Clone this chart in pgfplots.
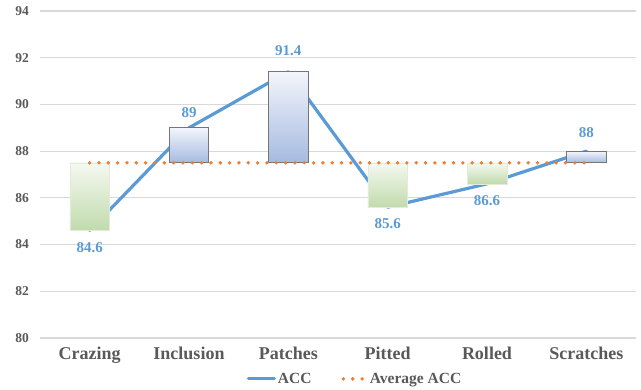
\documentclass[border=0pt]{standalone}
\usepackage{pgfplots}
\pgfplotsset{compat=1.18}
\usepackage{pgfplotstable}
\usepackage{fontspec}
\setmainfont{Liberation Serif}

\definecolor{accblue}{HTML}{5B9BD5}
\definecolor{avgorange}{HTML}{ED7D31}
\definecolor{gridgray}{HTML}{D9D9D9}
\definecolor{textgray}{HTML}{595959}
\definecolor{upedge}{HTML}{767676}
\definecolor{uptop}{HTML}{F3F5FB}
\definecolor{upbottom}{HTML}{A5BAE1}
\definecolor{downedge}{HTML}{E3ECDB}
\definecolor{downtop}{HTML}{F5F9F1}
\definecolor{downbottom}{HTML}{C1DBAC}

% accuracy per defect class; dy places the value label above/below the point
\pgfplotstableread{
x acc dy
0 84.6 -17
1 89.0 15
2 91.4 21
3 85.6 -16
4 86.6 -17
5 88.0 19
}\accdata

\pgfplotsset{
  upbar/.style={draw=upedge, line width=0.9bp, top color=uptop, bottom color=upbottom, forget plot},
  downbar/.style={draw=downedge, line width=0.6bp, top color=downtop, bottom color=downbottom, forget plot},
  acclegend/.style={legend image code/.code={\draw[##1] (0bp,0bp) -- (26bp,0bp);}},
  avglegend/.style={legend image code/.code={\draw[##1] (0bp,0bp) -- (22.5bp,0bp);}},
}

\begin{document}
\begin{tikzpicture}
\path[use as bounding box] (0,0) rectangle (641bp,390bp);
\begin{axis}[
  at={(40bp,52bp)}, anchor=south west,
  scale only axis, width=596bp, height=327bp,
  xmin=-0.5, xmax=5.5, ymin=80, ymax=94,
  xtick={0,...,5},
  xticklabels={Crazing,Inclusion,Patches,Pitted,Rolled,Scratches},
  ytick={80,82,...,94},
  ymajorgrids, grid style={draw=gridgray, line width=1.2bp},
  axis line style={draw=none},
  major tick length=0pt,
  /pgf/number format/assume math mode=true,
  yticklabel style={font=\fontsize{13.5bp}{15bp}\selectfont\bfseries, text=textgray, anchor=east, inner sep=0pt, xshift=-11bp},
  xticklabel style={font=\fontsize{18bp}{20bp}\selectfont\bfseries, text=textgray, anchor=base, inner sep=0pt, yshift=-21.5bp},
  clip=false,
  legend columns=2,
  legend style={at={(0.5285,-0.125)}, anchor=center, draw=none, fill=none,
    font=\fontsize{15.5bp}{17bp}\selectfont\bfseries, text=textgray,
    /tikz/every even column/.append style={column sep=28bp}},
  legend cell align=left,
]
% ACC line
\addplot[accblue, line width=3.2bp, line cap=round, line join=round, acclegend]
  table[x=x, y=acc]{\accdata};
\addlegendentry{ACC}

% up/down bars between the average and each class accuracy
\addplot[downbar] coordinates {(-0.2,87.5) (0.2,87.5) (0.2,84.6) (-0.2,84.6)} -- cycle;
\addplot[upbar]   coordinates {(0.8,87.5) (1.2,87.5) (1.2,89.0) (0.8,89.0)} -- cycle;
\addplot[upbar]   coordinates {(1.8,87.5) (2.2,87.5) (2.2,91.4) (1.8,91.4)} -- cycle;
\addplot[downbar] coordinates {(2.8,87.5) (3.2,87.5) (3.2,85.6) (2.8,85.6)} -- cycle;
\addplot[downbar] coordinates {(3.8,87.5) (4.2,87.5) (4.2,86.6) (3.8,86.6)} -- cycle;
\addplot[upbar]   coordinates {(4.8,87.5) (5.2,87.5) (5.2,88.0) (4.8,88.0)} -- cycle;

% average accuracy
\addplot[avgorange, line width=3.8bp, line cap=round, dash pattern=on 0bp off 9.33bp, avglegend]
  coordinates {(0,87.5) (5,87.5)};
\addlegendentry{Average ACC}

% value labels
\addplot[draw=none, mark=none, forget plot,
  nodes near coords, point meta=y,
  visualization depends on={\thisrow{dy} \as \dy},
  every node near coord/.append style={anchor=center, inner sep=0pt, yshift=\dy*1bp,
    font=\fontsize{15bp}{17bp}\selectfont\bfseries, text=accblue}]
  table[x=x, y=acc]{\accdata};
\end{axis}
\end{tikzpicture}
\end{document}
